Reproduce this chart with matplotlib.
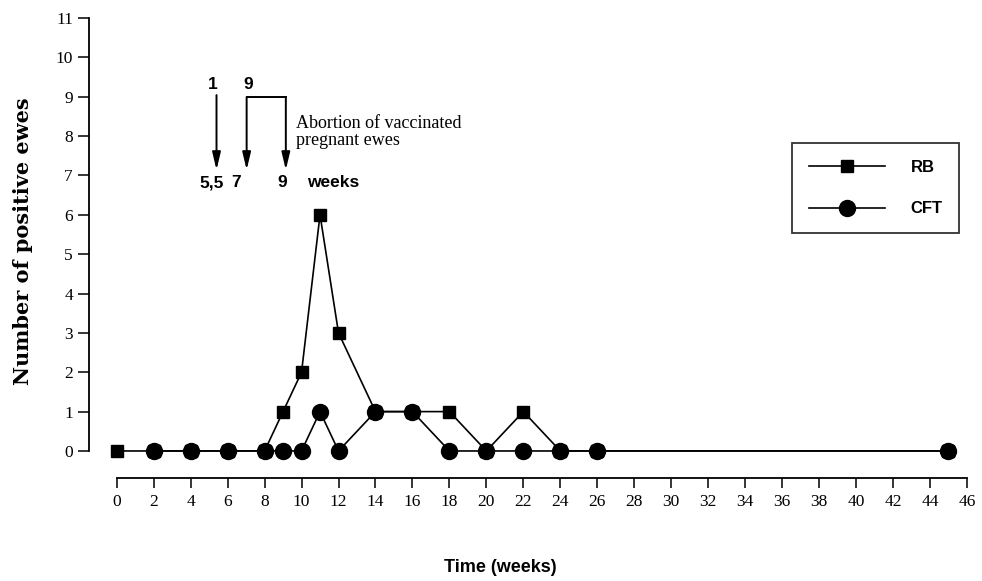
import matplotlib
matplotlib.use('Agg')
import matplotlib.pyplot as plt

# weeks after vaccination and number of positive ewes
weeks_rb = [0, 2, 4, 6, 8, 9, 10, 11, 12, 14, 16, 18, 20, 22, 24, 26, 45]
rb = [0, 0, 0, 0, 0, 1, 2, 6, 3, 1, 1, 1, 0, 1, 0, 0, 0]
weeks_cft = [2, 4, 6, 8, 9, 10, 11, 12, 14, 16, 18, 20, 22, 24, 26, 45]
cft = [0, 0, 0, 0, 0, 0, 1, 0, 1, 1, 0, 0, 0, 0, 0, 0]

x_ticks = list(range(0, 47, 2))
y_ticks = list(range(0, 12))

serif = 'Liberation Serif'
sans = 'Liberation Sans'

fig = plt.figure(figsize=(9.82, 5.81), dpi=100)
ax = fig.add_axes([0.0906, 0.2238, 0.8941, 0.7453])

ax.plot(weeks_rb, rb, color='black', lw=1.2, marker='s', markersize=8.5,
        clip_on=False, zorder=3, label='RB')
ax.plot(weeks_cft, cft, color='black', lw=1.2, marker='o', markersize=11.5,
        clip_on=False, zorder=4, label='CFT')

ax.set_xlim(-1.5, 46)
ax.set_ylim(0, 11)
ax.set_xticks(x_ticks)
ax.set_yticks(y_ticks)

ax.spines['top'].set_visible(False)
ax.spines['right'].set_visible(False)
ax.spines['bottom'].set_position(('outward', 19.5))
ax.spines['bottom'].set_bounds(0, 46)
ax.spines['left'].set_bounds(0, 11)
ax.spines['left'].set_linewidth(1.3)
ax.spines['bottom'].set_linewidth(1.3)
ax.tick_params(axis='x', direction='out', length=7, width=1.1, pad=4.5,
               labelsize=12.5, labelfontfamily=serif)
ax.tick_params(axis='y', direction='out', length=8, width=1.1, pad=3.5,
               labelsize=12.5, labelfontfamily=serif)

ax.set_ylabel('Number of positive ewes', family='DejaVu Serif', fontweight='bold',
              fontsize=15, va='center')
ax.yaxis.set_label_coords(-0.0755, 0.485)
ax.set_xlabel('Time (weeks)', family=sans, fontweight='bold', fontsize=13, va='center')
ax.xaxis.set_label_coords(0.468, -0.27)

# vaccination / abortion arrows
arrow = dict(arrowstyle='-|>,head_length=1.05,head_width=0.25', color='black',
             lw=1.4, shrinkA=0, shrinkB=0)
for xa in [5.4, 7.03, 9.15]:
    ax.annotate('', xy=(xa, 7.14), xytext=(xa, 8.99 if xa > 6 else 9.04),
                arrowprops=arrow, annotation_clip=False)
ax.plot([7.03, 9.15], [8.99, 8.99], color='black', lw=1.4)

lab_font = dict(family=sans, fontweight='bold', fontsize=12.5, ha='center', va='center')
ax.text(5.22, 9.3, '1', **lab_font)
ax.text(7.14, 9.3, '9', **lab_font)
ax.text(5.14, 6.81, '5,5', **lab_font)
ax.text(6.44, 6.81, '7', **lab_font)
ax.text(8.93, 6.81, '9', **lab_font)
ax.text(11.7, 6.81, 'weeks', **lab_font)
ax.text(9.69, 8.1, 'Abortion of vaccinated\npregnant ewes', family=serif,
        fontsize=13, ha='left', va='center', linespacing=1.0)

leg = ax.legend(loc='center', bbox_to_anchor=(0.896, 0.607), frameon=True,
                fancybox=False, edgecolor='black', handlelength=4.6,
                handletextpad=1.5, labelspacing=1.6, borderpad=1.0,
                prop=dict(family=sans, weight='bold', size=12))
leg.get_frame().set_linewidth(1.3)

fig.savefig('out.png', dpi=100)
